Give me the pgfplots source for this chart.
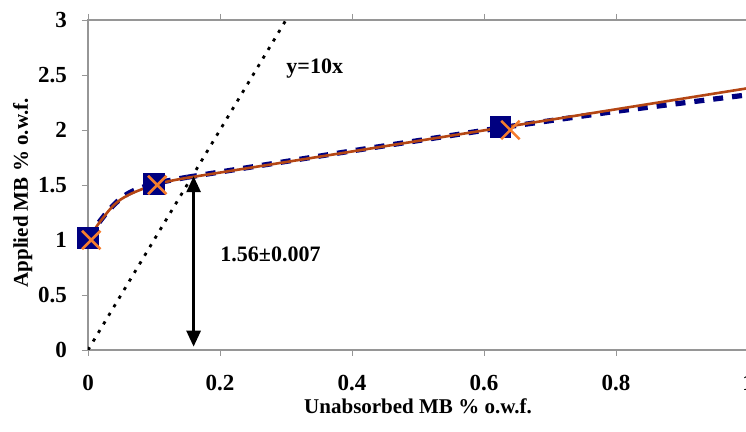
\documentclass[border=0pt]{standalone}
\usepackage{fontspec}
\setmainfont{Liberation Serif}
\usepackage{pgfplots}
\pgfplotsset{compat=1.18}
\usetikzlibrary{arrows.meta}
\definecolor{navyb}{RGB}{0,0,128}
\definecolor{fitbrown}{RGB}{180,70,20}
\definecolor{xorange}{RGB}{245,125,45}
\definecolor{frame}{RGB}{150,150,150}

\begin{document}
\begin{tikzpicture}[x=0.5pt,y=0.5pt]
  \clip (0,0) rectangle (746,432);
  \begin{axis}[
    at={(44pt,41pt)},anchor=south west,
    scale only axis,width=330pt,height=165pt,
    xmin=0,xmax=1,ymin=0,ymax=3,
    xtick={0,0.2,0.4,0.6,0.8,1},
    ytick={0,0.5,1,1.5,2,2.5,3},
    xticklabels={0,0.2,0.4,0.6,0.8,1},
    yticklabels={0,0.5,1,1.5,2,2.5,3},
    tick align=outside,
    tick style={frame,thin},
    major tick length=3pt,
    axis line style={frame,line width=1pt},
    ticklabel style={font=\fontsize{11.5}{13}\selectfont\bfseries},
    xticklabel style={yshift=-6pt},
    yticklabel style={xshift=-4pt},
    xlabel={Unabsorbed MB \% o.w.f.},
    ylabel={Applied MB \% o.w.f.},
    label style={font=\fontsize{10.5}{12}\selectfont\bfseries},
    xlabel style={yshift=3pt},
    ylabel style={yshift=-4pt,xshift=-4pt},
    clip=true,
  ]
    % y = 10x reference line
    \addplot[black,dash pattern=on 1.6pt off 3.4pt,line width=1.4pt] coordinates {(0,0) (0.3,3)};
    % blue dashed model
    \addplot[navyb,dash pattern=on 5pt off 4.5pt,line width=2.6pt,smooth,tension=0.6]
      coordinates {(0,1.02) (0.03,1.26) (0.06,1.42) (0.1,1.51) (0.15,1.57)};
    \addplot[navyb,dash pattern=on 5pt off 4.5pt,line width=2.6pt]
      coordinates {(0.15,1.57) (0.4,1.81) (0.625,2.02) (0.8,2.17) (1,2.32)};
    % brown fitted curve
    \addplot[fitbrown,line width=1.3pt,smooth,tension=0.6]
      coordinates {(0,1.0) (0.02,1.18) (0.05,1.37) (0.1,1.5) (0.15,1.565)};
    \addplot[fitbrown,line width=1.3pt]
      coordinates {(0.15,1.565) (0.635,2.03) (1,2.38)};
    % experimental points
    \addplot[only marks,mark=square*,mark size=5.2pt,navyb]
      coordinates {(0,1.02) (0.1,1.51) (0.625,2.03)};
    \addplot[only marks,mark=x,mark size=6.5pt,xorange,line width=1.3pt]
      coordinates {(0.005,1.0) (0.105,1.5) (0.64,2.0)};
    % annotations
    \addplot[black,line width=1.4pt,{Triangle[width=7pt,length=8pt]}-{Triangle[width=7pt,length=8pt]}]
      coordinates {(0.16,0.03) (0.16,1.58)};
    \node[font=\fontsize{11}{13}\selectfont\bfseries,anchor=west] at (axis cs:0.19,0.87) {1.56±0.007};
    \node[font=\fontsize{11}{13}\selectfont\bfseries,anchor=west] at (axis cs:0.29,2.56) {y=10x};
  \end{axis}
\end{tikzpicture}
\end{document}
